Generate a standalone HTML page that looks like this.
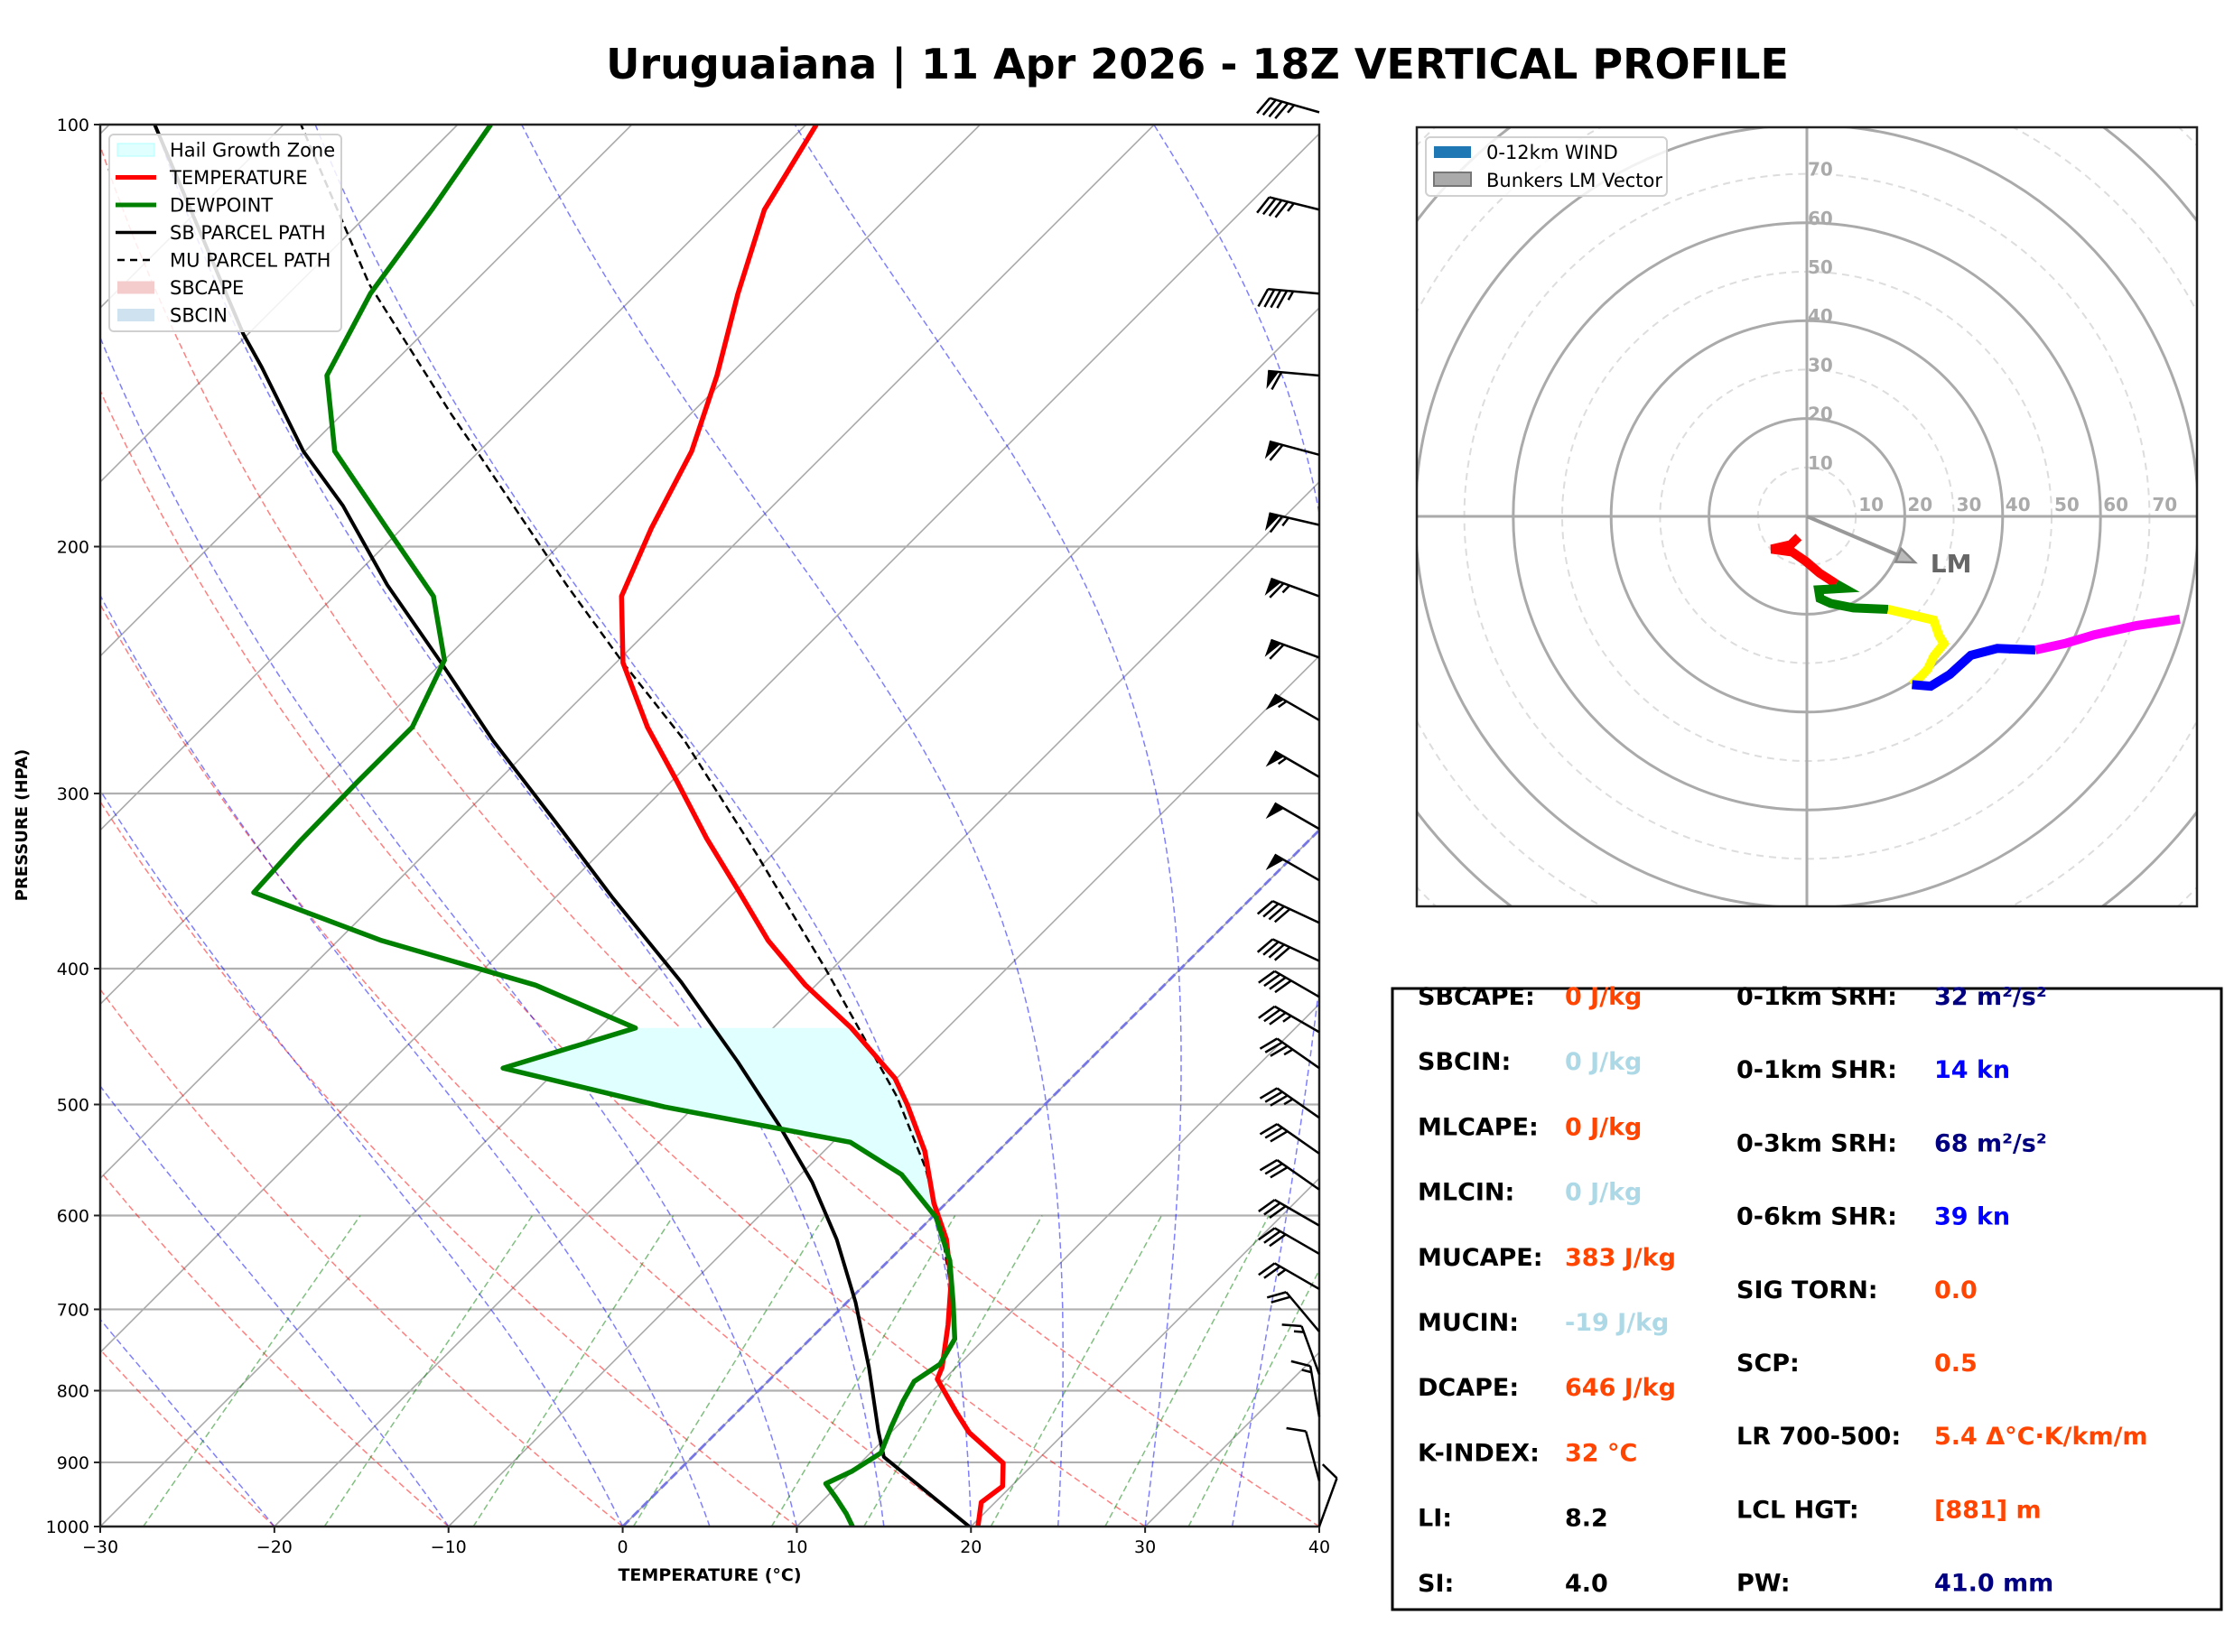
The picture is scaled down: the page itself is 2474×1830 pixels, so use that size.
<!DOCTYPE html>
<html><head><meta charset="utf-8"><title>Uruguaiana Vertical Profile</title>
<style>
html,body{margin:0;padding:0;background:#fff;}
svg{display:block;font-family:"DejaVu Sans","Liberation Sans",sans-serif;}
</style></head>
<body>
<svg id="fig" xmlns="http://www.w3.org/2000/svg" width="2474" height="1830" viewBox="0 0 2474 1830">
<rect x="0" y="0" width="2474" height="1830" fill="#fff"/>
<text x="1326" y="87" text-anchor="middle" font-size="46" font-weight="bold">Uruguaiana | 11 Apr 2026 - 18Z VERTICAL PROFILE</text>
<defs>
<clipPath id="skewclip"><rect x="111" y="138" width="1350" height="1553"/></clipPath>
<clipPath id="hodoclip"><rect x="1569" y="141" width="864" height="863"/></clipPath>
</defs>
<g id="skew-bg" clip-path="url(#skewclip)"></g>
<g id="skew-data" clip-path="url(#skewclip)"></g>
<g id="skew-axes"></g>
<g id="barbs"></g>
<g id="hodo-bg" clip-path="url(#hodoclip)"></g>
<g id="hodo-data" clip-path="url(#hodoclip)"></g>
<g id="hodo-fg"></g>
<g id="table"></g>
</svg>
<script>
// ---------- Skew-T data ----------
const tempP = [1000,961,936,901,857,829,785,770,718,669,624,588,540,500,479,441,411,382,353,323,294,269,242,217,194,171,151,132,115,100];
const tempT = [20.4,19.2,19.5,18.2,14.5,12.6,9.6,9.2,7.1,4.8,2.1,-0.7,-4.2,-7.9,-10.1,-15.5,-20.6,-25.3,-29.7,-34.7,-39.7,-44.5,-49.6,-53.5,-55.7,-57.8,-60.7,-64.2,-67.5,-69.4];
const dewP = [1000,979,954,932,913,886,849,814,788,766,735,692,646,602,561,532,502,471,441,411,382,353,324,295,269,241,217,194,171,151,132,115,100];
const dewT = [13.2,12.1,10.6,9.2,10.0,10.6,9.7,8.9,8.4,8.9,8.3,6.1,3.5,0.25,-4.2,-9.0,-21.7,-33.2,-27.9,-36.1,-47.5,-57.6,-57.9,-58.0,-58.0,-60.0,-64.3,-70.9,-78.3,-83.1,-85.3,-86.6,-88.1];
const sbP = [1000,892,855,770,692,624,568,517,466,409,356,315,275,243,213,187,171,149,141,100];
const sbT = [19.9,11.0,9.2,5.0,0.5,-4.2,-8.9,-14.1,-20.1,-27.9,-36.7,-44.2,-52.6,-59.8,-67.6,-74.7,-80.1,-87.3,-90.3,-107.4];
const muP = [692,624,555,494,400,331,275,242,213,172,161,130,100];
const muT = [6.1,1.9,-3.2,-8.9,-20.4,-31.0,-41.6,-49.6,-57.3,-69.8,-73.7,-85.9,-99.0];
const hailTop = 441, hailBottom = 602;
const pressureTicks = [100,200,300,400,500,600,700,800,900,1000];
const tempTicks = [-30,-20,-10,0,10,20,30,40];
const dryT0 = [-30,-20,-10,0,10,20,30,40];
const moistT0 = [-30,-20,-10,0,5,10,15,20,25,30,35];
const mixW = [0.4,1,2,4,7,10,16,24,32];
// ---------- Wind barbs ----------
const barbP = [98,115,132,151,172,193,217,240,266,292,318,346,371,395,419,444,471,511,542,575,610,639,677,726,779,835,928,1000];
const barbDir = [286,284,275,275,285,283,290,290,300,300,300,300,295,295,300,300,305,305,305,305,300,300,300,320,340,350,345,20];
const barbSpd = [45,45,45,60,60,65,65,60,55,55,50,50,40,40,40,35,35,35,30,30,30,30,25,20,15,15,10,10];
// ---------- Hodograph data (kt) ----------
const hodoRedU = [-1.7,-3.3,-7.25,-2.95,-0.2,2.6,6.0];
const hodoRedV = [-4.2,-5.8,-6.7,-7.3,-9.2,-11.6,-13.8];
const hodoGreenU = [6.0,7.6,2.4,2.7,4.9,9.5,16.6];
const hodoGreenV = [-13.8,-14.7,-15.0,-16.8,-17.8,-18.7,-19.0];
const hodoYellowU = [16.6,25.9,27.0,28.0,25.9,24.7,23.2,21.5];
const hodoYellowV = [-19.0,-21.2,-24.4,-26.0,-28.6,-31.2,-32.8,-34.4];
const hodoBlueU = [21.5,25.3,29.2,33.5,38.9,46.7];
const hodoBlueV = [-34.4,-34.7,-32.3,-28.4,-27.0,-27.3];
const hodoMagentaU = [46.7,52.7,58.7,67.4,76.2];
const hodoMagentaV = [-27.3,-26.0,-24.2,-22.3,-21.0];
const lmU = [22.1], lmV = [-9.4];
const ringKts = [10,20,30,40,50,60,70,80,90,100,110];
const ringLabels = ['10','20','30','40','50','60','70'];
// ---------- Table ----------
const leftLabels = ['SBCAPE:','SBCIN:','MLCAPE:','MLCIN:','MUCAPE:','MUCIN:','DCAPE:','K-INDEX:','LI:','SI:'];
const leftValues = ['0 J/kg','0 J/kg','0 J/kg','0 J/kg','383 J/kg','-19 J/kg','646 J/kg','32 °C','8.2','4.0'];
const leftColors = ['#ff4500','#add8e6','#ff4500','#add8e6','#ff4500','#add8e6','#ff4500','#ff4500','#000','#000'];
const rightLabels = ['0-1km SRH:','0-1km SHR:','0-3km SRH:','0-6km SHR:','SIG TORN:','SCP:','LR 700-500:','LCL HGT:','PW:'];
const rightValues = ['32 m²/s²','14 kn','68 m²/s²','39 kn','0.0','0.5','5.4 Δ°C·K/km/m','[881] m','41.0 mm'];
const rightColors = ['#000080','#0000ff','#000080','#0000ff','#ff4500','#ff4500','#ff4500','#ff4500','#000080'];

const NS='http://www.w3.org/2000/svg';
function mk(tag, attrs, parent){const e=document.createElementNS(NS,tag);for(const k in attrs)e.setAttribute(k,attrs[k]);if(parent)parent.appendChild(e);return e;}
const X0=111, X1=1461, Y0=138, Y1=1691;
const PXC=(X1-X0)/70;
function yP(p){return Y0+(Y1-Y0)*Math.log10(p/100);}
function xT(T,p){return X0+(T+30)*PXC+(Y1-yP(p));}
function pathFrom(Ts,Ps){return Ts.map((t,i)=>(i?'L':'M')+xT(t,Ps[i]).toFixed(1)+','+yP(Ps[i]).toFixed(1)).join(' ');}

const bg=document.getElementById('skew-bg');
pressureTicks.forEach(p=>{const l=mk('line',{x1:X0,x2:X1,y1:yP(p),y2:yP(p),stroke:'#b0b0b0','stroke-width':2.2},bg);
});
for(let T=-150;T<=40;T+=10){const l=mk('line',{x1:xT(T,1000),y1:Y1,x2:xT(T,1000)+(Y1-Y0),y2:Y0,stroke:'#aaaaaa','stroke-width':1.6},bg);
}
const pl=[];for(let p=1000;p>=100;p-=10)pl.push(p);
dryT0.forEach(t0=>{const Ts=pl.map(p=>(t0+273.15)*Math.pow(p/1000,0.2857)-273.15);
const e=mk('path',{d:pathFrom(Ts,pl),fill:'none',stroke:'#ff0000','stroke-opacity':0.5,'stroke-width':1.5,'stroke-dasharray':'7,4'},bg);
});
function es(T){return 6.112*Math.exp(17.67*(T-273.15)/(T-29.65));}
moistT0.forEach(t0=>{let T=t0+273.15;const Ts=[],Ps=[];
for(let p=1000;p>=100;p-=5){Ts.push(T-273.15);Ps.push(p);const e=es(T);const rs=0.622*e/(p-e);
const d=(287*T+2.501e6*rs)/(1005+2.501e6*2.501e6*rs*0.622/(287*T*T))/p;T-=d*5;}
const e=mk('path',{d:pathFrom(Ts,Ps),fill:'none',stroke:'#0000ff','stroke-opacity':0.5,'stroke-width':1.5,'stroke-dasharray':'7,4'},bg);
});
mixW.forEach(w=>{const Ps=[1000,600];const Ts=Ps.map(p=>{const ww=w/1000;const e=p*ww/(0.622+ww);const l=Math.log(e/6.112);return 243.5*l/(17.67-l);});
const e=mk('path',{d:pathFrom(Ts,Ps),fill:'none',stroke:'#008000','stroke-opacity':0.5,'stroke-width':1.5,'stroke-dasharray':'7,4'},bg);
});
{const e=mk('line',{x1:xT(0,1000),y1:Y1,x2:xT(0,1000)+(Y1-Y0),y2:Y0,stroke:'#6666ee','stroke-opacity':0.8,'stroke-width':3,'stroke-dasharray':'10,5'},bg);
}

const dg=document.getElementById('skew-data');
{const dI=dewP.map((p,i)=>i).filter(i=>dewP[i]>=hailTop&&dewP[i]<=hailBottom);
const rI=tempP.map((p,i)=>i).filter(i=>tempP[i]>=hailTop&&tempP[i]<=hailBottom).reverse();
let d=dI.map((i,k)=>(k?'L':'M')+xT(dewT[i],dewP[i]).toFixed(1)+','+yP(dewP[i]).toFixed(1)).join(' ');
d+=' '+rI.map(i=>'L'+xT(tempT[i],tempP[i]).toFixed(1)+','+yP(tempP[i]).toFixed(1)).join(' ')+' Z';
const e=mk('path',{d:d,fill:'#e0ffff',stroke:'none'},dg);
}
{const e=mk('path',{d:pathFrom(sbT,sbP),fill:'none',stroke:'#000','stroke-width':4,'stroke-linejoin':'round'},dg);
}
{const e=mk('path',{d:pathFrom(muT,muP),fill:'none',stroke:'#000','stroke-width':2.5,'stroke-dasharray':'9,5'},dg);
}
{const e=mk('path',{d:pathFrom(tempT,tempP),fill:'none',stroke:'#ff0000','stroke-width':5.5,'stroke-linejoin':'round'},dg);
}
{const e=mk('path',{d:pathFrom(dewT,dewP),fill:'none',stroke:'#008000','stroke-width':5.5,'stroke-linejoin':'round'},dg);
}

const ax=document.getElementById('skew-axes');
{const e=mk('rect',{x:X0,y:Y0,width:X1-X0,height:Y1-Y0,fill:'none',stroke:'#222','stroke-width':2.5},ax);
}
pressureTicks.forEach(p=>{mk('line',{x1:X0-7,x2:X0,y1:yP(p),y2:yP(p),stroke:'#222','stroke-width':2},ax);
const t=mk('text',{x:X0-12,y:yP(p)+7,'text-anchor':'end','font-size':19},ax);t.textContent=p;
});
tempTicks.forEach(T=>{const x=X0+(T+30)*PXC;mk('line',{x1:x,x2:x,y1:Y1,y2:Y1+7,stroke:'#222','stroke-width':2},ax);
const t=mk('text',{x:x,y:Y1+29,'text-anchor':'middle','font-size':19},ax);t.textContent=T<0?'\u2212'+(-T):T;
});
{const t=mk('text',{x:786,y:1751,'text-anchor':'middle','font-size':19,'font-weight':'bold'},ax);t.textContent='TEMPERATURE (°C)';
}
{const t=mk('text',{x:0,y:0,'text-anchor':'middle','font-size':18,'font-weight':'bold',transform:'translate(30,914) rotate(-90)'},ax);t.textContent='PRESSURE (HPA)';
}
{const lg=mk('g',{},ax);
mk('rect',{x:121,y:149,width:257,height:218,rx:5,fill:'#fff','fill-opacity':0.85,stroke:'#d0d0d0','stroke-width':2},lg);
const items=[['Hail Growth Zone','patch','#e0ffff','#b0ffff'],['TEMPERATURE','line','#ff0000'],['DEWPOINT','line','#008000'],['SB PARCEL PATH','line','#000'],['MU PARCEL PATH','dash','#000'],['SBCAPE','patch','#f4cccc','none'],['SBCIN','patch','#cfe2ef','none']];
items.forEach((it,i)=>{const cy=166+i*30.5;
if(it[1]==='patch')mk('rect',{x:130,y:cy-7,width:41,height:14,fill:it[2],stroke:it[3],'stroke-width':1},lg);
else if(it[1]==='line')mk('line',{x1:128,x2:173,y1:cy,y2:cy,stroke:it[2],'stroke-width':it[2]==='#000'?3.5:5},lg);
else mk('line',{x1:130,x2:172,y1:cy,y2:cy,stroke:it[2],'stroke-width':2.5,'stroke-dasharray':'8,6'},lg);
const t=mk('text',{x:188,y:cy+7.5,'font-size':21},lg);t.textContent=it[0];
});}

const bb=document.getElementById('barbs');
barbP.forEach((p,i)=>{const g=mk('g',{},bb);
const bx=X1, by=yP(p);const d=barbDir[i]*Math.PI/180;const sx=Math.sin(d), sy=-Math.cos(d);
const px=sy, py=-sx;
const L=57, H=20;const ex=bx+sx*L, ey=by+sy*L;
mk('line',{x1:bx,y1:by,x2:ex,y2:ey,stroke:'#000','stroke-width':2.5},g);
let spd=Math.round(barbSpd[i]/5)*5;let pos=0;
while(spd>=50){const ax1=ex-sx*pos, ay1=ey-sy*pos, ax2=ex-sx*(pos+12), ay2=ey-sy*(pos+12);
mk('polygon',{points:`${ax1},${ay1} ${ax2},${ay2} ${ax1+px*H},${ay1+py*H}`,fill:'#000'},g);pos+=15;spd-=50;}
while(spd>=10){const ax1=ex-sx*pos, ay1=ey-sy*pos;
mk('line',{x1:ax1,y1:ay1,x2:ax1+px*H+sx*9,y2:ay1+py*H+sy*9,stroke:'#000','stroke-width':2.5},g);pos+=7;spd-=10;}
if(spd>=5){if(pos===0)pos=7;const ax1=ex-sx*pos, ay1=ey-sy*pos;
mk('line',{x1:ax1,y1:ay1,x2:ax1+px*H*0.5+sx*4.5,y2:ay1+py*H*0.5+sy*4.5,stroke:'#000','stroke-width':2.5},g);}
});

const HC={x:2001,y:572}, KT=5.42;
function hx(u){return HC.x+u*KT;} function hy(v){return HC.y-v*KT;}
const hb=document.getElementById('hodo-bg');
ringKts.forEach(r=>{const solid=r%20===0;const c=mk('circle',{cx:HC.x,cy:HC.y,r:r*KT,fill:'none',stroke:solid?'#aaaaaa':'#dddddd','stroke-width':solid?3:2,'stroke-dasharray':solid?'none':'8,6'},hb);
});
mk('line',{x1:1569,x2:2433,y1:HC.y,y2:HC.y,stroke:'#aaaaaa','stroke-width':3},hb);
mk('line',{x1:HC.x,x2:HC.x,y1:141,y2:1004,stroke:'#aaaaaa','stroke-width':3},hb);
ringLabels.forEach((s,i)=>{const r=(i+1)*10;
const t1=mk('text',{x:hx(r)+3,y:HC.y-6,'font-size':20,'font-weight':'bold',fill:'#aaaaaa'},hb);t1.textContent=s;

const t2=mk('text',{x:HC.x+1,y:HC.y-r*KT+2,'font-size':20,'font-weight':'bold',fill:'#aaaaaa'},hb);t2.textContent=s;
});
const hd=document.getElementById('hodo-data');
[[hodoRedU,hodoRedV,'#ff0000','hodo-segment-0-1km'],[hodoGreenU,hodoGreenV,'#008000','hodo-segment-1-3km'],[hodoYellowU,hodoYellowV,'#ffff00','hodo-segment-3-6km'],[hodoBlueU,hodoBlueV,'#0000ff','hodo-segment-6-9km'],[hodoMagentaU,hodoMagentaV,'#ff00ff','hodo-segment-9-12km']].forEach(s=>{
const d=s[0].map((u,i)=>(i?'L':'M')+hx(u).toFixed(1)+','+hy(s[1][i]).toFixed(1)).join(' ');
const e=mk('path',{d:d,fill:'none',stroke:s[2],'stroke-width':10,'stroke-linejoin':'miter'},hd);
});
{const x2=hx(lmU[0]), y2=hy(lmV[0]);const ang=Math.atan2(y2-HC.y,x2-HC.x);
const e=mk('line',{x1:HC.x,y1:HC.y,x2:x2-Math.cos(ang)*12,y2:y2-Math.sin(ang)*12,stroke:'#999','stroke-width':4},hd);

const c=Math.cos(ang), s=Math.sin(ang);
const pts=`${x2},${y2} ${x2-c*20-s*8},${y2-s*20+c*8} ${x2-c*20+s*8},${y2-s*20-c*8}`;
const h=mk('polygon',{points:pts,fill:'#bbb',stroke:'#888','stroke-width':2.5},hd);

const t=mk('text',{x:x2+17,y:y2+11,'font-size':28,'font-weight':'bold',fill:'#666'},hd);t.textContent='LM';
}
const hf=document.getElementById('hodo-fg');
{const e=mk('rect',{x:1569,y:141,width:864,height:863,fill:'none',stroke:'#222','stroke-width':2.5},hf);

const lg=mk('g',{},hf);
mk('rect',{x:1579,y:152,width:267,height:65,rx:5,fill:'#fff','fill-opacity':0.85,stroke:'#d0d0d0','stroke-width':2},lg);
mk('rect',{x:1588,y:162,width:41,height:13,fill:'#1f77b4'},lg);
mk('rect',{x:1588,y:191,width:41,height:15,fill:'#aaaaaa',stroke:'#777','stroke-width':2},lg);
const t1=mk('text',{x:1646,y:176,'font-size':21},lg);t1.textContent='0-12km WIND';

const t2=mk('text',{x:1646,y:207,'font-size':21},lg);t2.textContent='Bunkers LM Vector';
}

const tb=document.getElementById('table');
{const e=mk('rect',{x:1542,y:1095,width:918,height:688,fill:'none',stroke:'#000','stroke-width':3},tb);
}
leftLabels.forEach((s,i)=>{const y=1113+i*72.2;
const a=mk('text',{x:1570,y:y,'font-size':27,'font-weight':'bold'},tb);a.textContent=s;

const b=mk('text',{x:1733,y:y,'font-size':27,'font-weight':'bold',fill:leftColors[i]},tb);b.textContent=leftValues[i];
});
rightLabels.forEach((s,i)=>{const y=1113+i*81.2;
const a=mk('text',{x:1923,y:y,'font-size':27,'font-weight':'bold'},tb);a.textContent=s;

const b=mk('text',{x:2142,y:y,'font-size':27,'font-weight':'bold',fill:rightColors[i]},tb);b.textContent=rightValues[i];
});
</script>
</body></html>
